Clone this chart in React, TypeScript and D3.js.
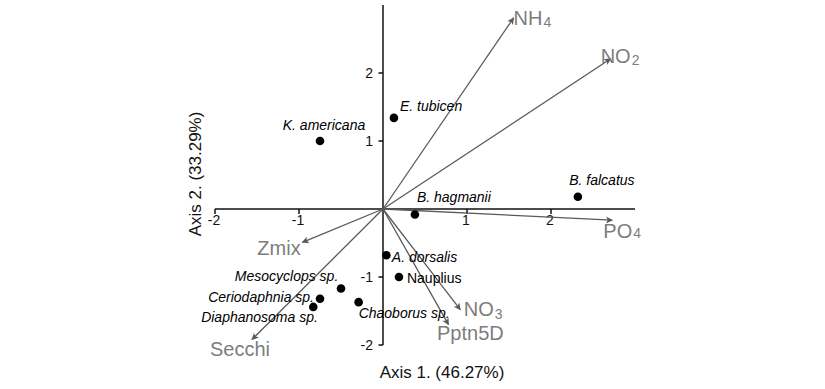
import React from "react";
import * as d3 from "d3";

const speciesNames = ["K. americana", "E. tubicen", "B. falcatus", "B. hagmanii", "A. dorsalis", "Nauplius", "Mesocyclops sp.", "Ceriodaphnia sp.", "Diaphanosoma sp.", "Chaoborus sp."];
const speciesX = [-0.75, 0.13, 2.32, 0.38, 0.04, 0.19, -0.5, -0.75, -0.83, -0.29];
const speciesY = [1.0, 1.34, 0.18, -0.08, -0.68, -1.0, -1.17, -1.32, -1.44, -1.37];
const speciesItalic = [true, true, true, true, true, false, true, true, true, true];

const envBase = ["NH", "NO", "PO", "Zmix", "Secchi", "NO", "Pptn5D"];
const envSub = ["4", "2", "4", "", "", "3", ""];
const envX = [1.555, 2.71, 2.73, -0.96, -1.56, 0.92, 0.78];
const envY = [2.81, 2.21, -0.165, -0.49, -1.92, -1.48, -1.7];

const xTicks = [-2, -1, 1, 2];
const yTicks = [-2, -1, 1, 2];

// label layout (pixel offsets from the point / arrow tip)
const speciesLabelDx = [4, 6, 24, 2, 5.5, 8, -2.7, -6, 4.6, 0];
const speciesLabelDy = [-11, -7, -11.6, -12.7, 6.3, 6, -8, 3.7, 15, 16.3];
const speciesAnchor = ["middle", "start", "middle", "start", "start", "start", "end", "end", "end", "start"];
const envLabelDx = [0, -10, -9, -45, -42, 3.5, -11.5];
const envLabelDy = [6.7, 4, 17.6, 12.3, 16.7, 6.7, 15];
const envSubShift = [2, 2.5, 0, 0, 0, 2.5, 0];

const W = 825;
const H = 389;

export default function App() {
  const x = d3.scaleLinear().domain([-2, 3]).range([215, 635]);
  const y = d3.scaleLinear().domain([-2, 3]).range([345, 5]);
  const x0 = x(0);
  const y0 = y(0);
  const font = "'Liberation Sans', Arial, Helvetica, sans-serif";
  const arrowColor = "#5a5a5a";
  const envColor = "#7d7d7d";

  return (
    <svg
      width={W}
      height={H}
      viewBox={`0 0 ${W} ${H}`}
      style={{ position: "absolute", left: 0, top: 0, background: "#fff" }}
      fontFamily={font}
    >
      <defs>
        <marker
          id="arrowhead"
          viewBox="0 0 10 10"
          refX="9"
          refY="5"
          markerWidth="9"
          markerHeight="7"
          markerUnits="userSpaceOnUse"
          orient="auto"
        >
          <path d="M0,0 L10,5 L0,10 L2.5,5 Z" fill={arrowColor} />
        </marker>
      </defs>

      {/* axes */}
      <line x1={x(-2)} x2={x(3)} y1={y0} y2={y0} stroke="#111" strokeWidth={1.5} />
      <line x1={x0} x2={x0} y1={y(-2)} y2={y(3)} stroke="#111" strokeWidth={1.5} />
      {xTicks.map((t) => (
        <g key={"xt" + t}>
          <line x1={x(t)} x2={x(t)} y1={y0} y2={y0 + 5} stroke="#111" strokeWidth={1.5} />
          <text x={x(t) - 1} y={y0 + 16} fontSize={14} textAnchor="middle" fill="#111">
            {t < 0 ? "-" + Math.abs(t) : String(t)}
          </text>
        </g>
      ))}
      {yTicks.map((t) => (
        <g key={"yt" + t}>
          <line x1={x0 - 4.5} x2={x0} y1={y(t)} y2={y(t)} stroke="#111" strokeWidth={1.5} />
          <text x={x0 - 10} y={y(t) + 5} fontSize={14} textAnchor="end" fill="#111">
            {t < 0 ? "-" + Math.abs(t) : String(t)}
          </text>
        </g>
      ))}

      {/* env arrows */}
      {envBase.map((b, i) => (
        <line
          key={"arr" + i}
          x1={x0}
          y1={y0}
          x2={x(envX[i])}
          y2={y(envY[i])}
          stroke={arrowColor}
          strokeWidth={1.3}
          markerEnd="url(#arrowhead)"
        />
      ))}

      {/* species points */}
      {speciesNames.map((n, i) => (
        <circle key={"pt" + i} cx={x(speciesX[i])} cy={y(speciesY[i])} r={4.3} fill="#000" />
      ))}
      {speciesNames.map((n, i) => (
        <text
          key={"pl" + i}
          x={x(speciesX[i]) + speciesLabelDx[i]}
          y={y(speciesY[i]) + speciesLabelDy[i]}
          fontSize={14}
          fontStyle={speciesItalic[i] ? "italic" : "normal"}
          textAnchor={speciesAnchor[i]}
          fill="#000"
        >
          {n}
        </text>
      ))}

      {/* env labels */}
      {envBase.map((b, i) => (
        <text
          key={"el" + i}
          x={x(envX[i]) + envLabelDx[i]}
          y={y(envY[i]) + envLabelDy[i]}
          fontSize={20}
          fill={envColor}
        >
          {b}
          {envSub[i] ? (
            <tspan fontSize={14} dx={1} dy={envSubShift[i]}>
              {envSub[i]}
            </tspan>
          ) : null}
        </text>
      ))}

      {/* axis titles */}
      <text x={442} y={378} fontSize={17} textAnchor="middle" fill="#111">
        Axis 1. (46.27%)
      </text>
      <text
        transform={`translate(201, 174) rotate(-90)`}
        fontSize={17}
        textAnchor="middle"
        fill="#111"
      >
        Axis 2. (33.29%)
      </text>
    </svg>
  );
}
